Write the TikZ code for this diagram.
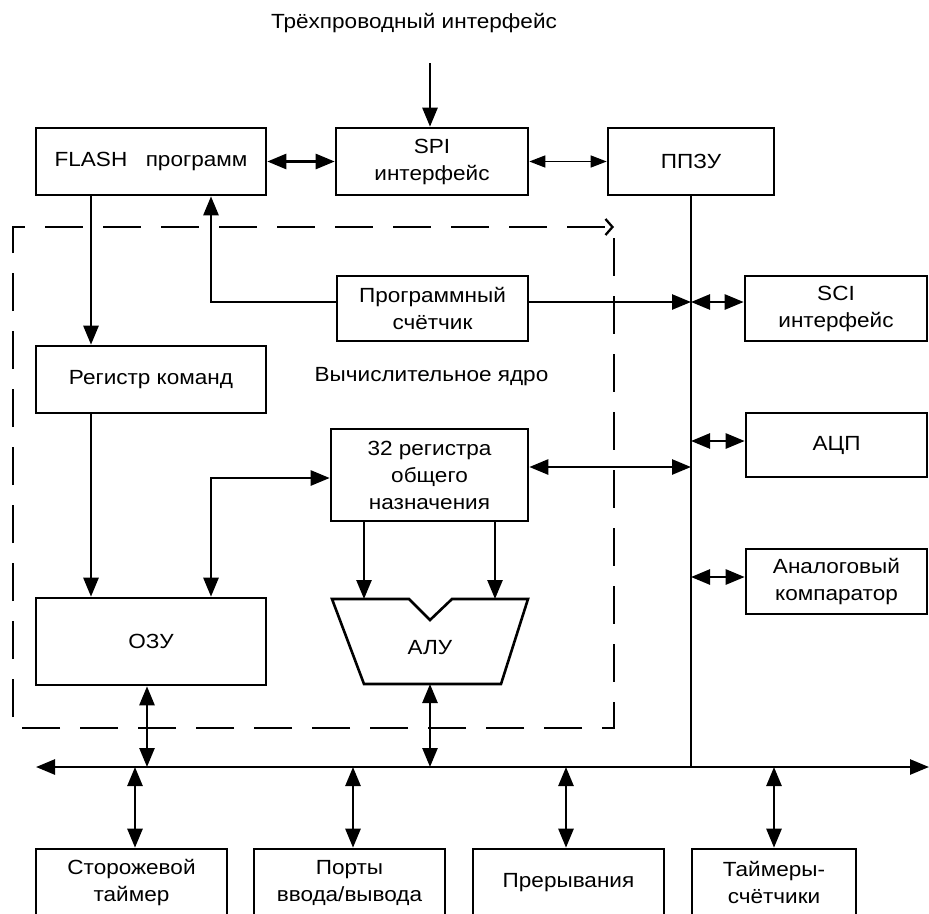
\documentclass[tikz,border=0pt]{standalone}
\usepackage{fontspec}
\setmainfont{Liberation Sans}[FakeStretch=1.1]
\usetikzlibrary{arrows.meta}
\tikzset{
  txt/.style={font=\fontsize{20.5}{27}\selectfont, align=center, inner sep=0pt},
  box/.style={txt, draw, line width=2.6pt, rectangle},
  conn/.style={line width=2.6pt},
  tip/.tip={Triangle[length=19pt,width=15pt]},
  arr/.style={conn, -tip},
  darr/.style={conn, tip-tip},
  tdarr/.style={line width=1.4pt, {Triangle[length=16pt,width=12pt]}-{Triangle[length=16pt,width=12pt]}},
  dashrect/.style={line width=2.3pt, dash pattern=on 38pt off 20pt, -{Straight Barb[length=7pt,width=16pt]}},
}
\begin{document}
\begin{tikzpicture}[x=1pt,y=-1pt]
\useasboundingbox (0,0) rectangle (929,913);
\clip (0,0) rectangle (929,913);

% title
\node[txt] (title) at (414,23) {Трёхпроводный интерфейс};
\coordinate (tin) at (430,63);

% top row
\node[box, minimum width=230pt, minimum height=67pt] (flash) at (151,161.5) {FLASH\hspace{0.9em}программ};
\node[box, minimum width=192pt, minimum height=67pt] (spi) at (432,161.5) {SPI\\интерфейс};
\node[box, minimum width=166pt, minimum height=67pt] (ppzu) at (691,161.5) {ППЗУ};

% core
\node[box, minimum width=191pt, minimum height=65pt] (pc) at (432.5,308.5) {Программный\\счётчик};
\node[box, minimum width=230pt, minimum height=67pt] (regk) at (151,379.5) {Регистр команд};
\node[txt] (core) at (431.5,377) {Вычислительное ядро};
\node[box, minimum width=197pt, minimum height=92pt] (gpr) at (429.5,475) {32 регистра\\общего\\назначения};
\node[box, minimum width=230pt, minimum height=87pt] (ozu) at (151,641.5) {ОЗУ};

% ALU shape
\coordinate (alutl) at (332,599);
\coordinate (alutr) at (528,599);
\coordinate (alubr) at (501,684);
\coordinate (alubl) at (364,684);
\coordinate (alun1) at (409,599);
\coordinate (alun2) at (430,620);
\coordinate (alun3) at (452,599);
\coordinate (alub) at (430,684);
\draw[line width=2.6pt, line join=miter] (alutl) -- (alun1) -- (alun2) -- (alun3) -- (alutr) -- (alubr) -- (alubl) -- cycle;
\node[txt] (alu) at (430,648) {АЛУ};

% right peripherals
\node[box, minimum width=182pt, minimum height=65pt] (sci) at (836,308.5) {SCI\\интерфейс};
\node[box, minimum width=181pt, minimum height=64pt] (adc) at (836.5,445) {АЦП};
\node[box, minimum width=181pt, minimum height=65pt] (comp) at (836.5,581.5) {Аналоговый\\компаратор};

% bottom peripherals
\node[box, minimum width=191pt, minimum height=67pt] (wd) at (131.5,882.5) {Сторожевой\\таймер};
\node[box, minimum width=191pt, minimum height=67pt] (ports) at (349.5,882.5) {Порты\\ввода/вывода};
\node[box, minimum width=191pt, minimum height=67pt] (irq) at (568.5,882.5) {Прерывания};
\node[box, minimum width=164pt, minimum height=67pt] (tmr) at (774,882.5) {Таймеры-\\счётчики};

% bus
\coordinate (busL) at (36,767);
\coordinate (busR) at (929,767);
\coordinate (cx1) at (91,0);
\coordinate (cx2) at (211,0);
\coordinate (cx3) at (364,0);
\coordinate (cx4) at (495,0);
\coordinate (cx5) at (147,0);
\coordinate (b1) at (135,0);
\coordinate (b2) at (353,0);
\coordinate (b3) at (566,0);
\coordinate (b4) at (774,0);

% dashed core frame
\draw[dashrect] (614,238) -- (614,728) -- (13,728) -- (13,227) -- (614,227);

% connectors
\draw[arr] (tin) -- (tin |- spi.north);
\draw[darr] (flash.east) -- (spi.west);
\draw[tdarr] (spi.east) -- (ppzu.west);
\draw[conn] (ppzu.south) -- (ppzu.south |- busL);
\draw[darr] (busL) -- (busR);

\draw[arr] (cx1 |- flash.south) -- (cx1 |- regk.north);
\draw[arr] (cx1 |- regk.south) -- (cx1 |- ozu.north);
\draw[arr] ([yshift=6.5pt]pc.west) -| (cx2 |- flash.south);
\draw[arr] ([yshift=6.5pt]pc.east) -- ([yshift=6.5pt]pc.east -| ppzu.south);
\draw[darr] ([yshift=6.5pt]sci.west -| ppzu.south) -- ([yshift=6.5pt]sci.west);
\draw[darr] ([yshift=4pt]adc.west -| ppzu.south) -- ([yshift=4pt]adc.west);
\draw[darr] ([yshift=4.5pt]comp.west -| ppzu.south) -- ([yshift=4.5pt]comp.west);
\draw[darr] ([yshift=8pt]gpr.east) -- ([yshift=8pt]gpr.east -| ppzu.south);
\draw[darr] (cx2 |- ozu.north) |- ([yshift=-3pt]gpr.west);
\draw[arr] (cx3 |- gpr.south) -- (cx3 |- alutl);
\draw[arr] (cx4 |- gpr.south) -- (cx4 |- alutl);
\draw[darr] (cx5 |- ozu.south) -- (cx5 |- busL);
\draw[darr] (alub) -- (alub |- busL);

\draw[darr] (b1 |- busL) -- (b1 |- wd.north);
\draw[darr] (b2 |- busL) -- (b2 |- ports.north);
\draw[darr] (b3 |- busL) -- (b3 |- irq.north);
\draw[darr] (b4 |- busL) -- (b4 |- tmr.north);
\end{tikzpicture}
\end{document}
